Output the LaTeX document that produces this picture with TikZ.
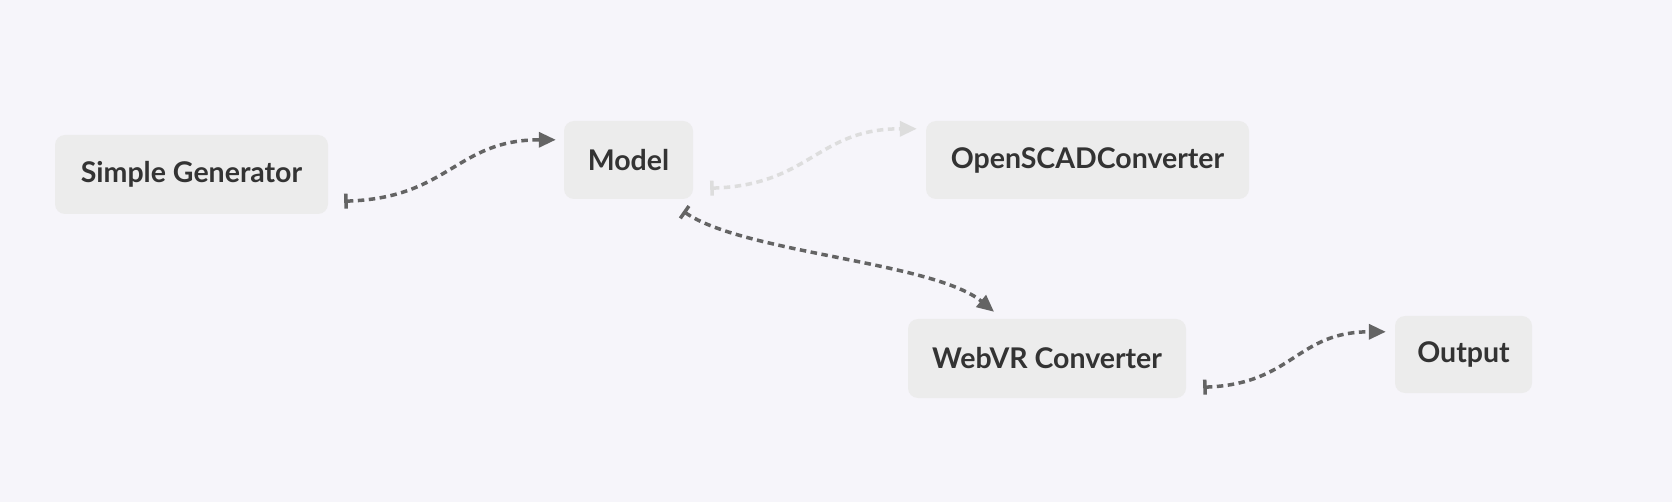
\documentclass[tikz,border=0pt]{standalone}
\usepackage{fontspec}
\setmainfont{Lato}
\usetikzlibrary{arrows.meta,calc}
\definecolor{bg}{RGB}{246,245,250}
\definecolor{boxfill}{RGB}{236,236,236}
\definecolor{txt}{RGB}{51,51,51}
\definecolor{conn}{RGB}{100,100,100}
\definecolor{connlight}{RGB}{221,221,221}
\tikzset{
  box/.style={fill=boxfill, rounded corners=10pt, inner sep=0pt, text=txt,
    font=\fontsize{28.5}{32}\selectfont\bfseries},
  link/.style={draw=conn, line width=3.5pt, dash pattern=on 6.5pt off 4.5pt,
    {Bar[width=15pt,line width=3.5pt]}-{Triangle[length=17pt,width=15pt]}},
  linklight/.style={link, draw=connlight},
}
\begin{document}
\begin{tikzpicture}[x=1pt,y=-1pt]
\useasboundingbox[fill=bg] (0,0) rectangle (1672,502);
\node[box, minimum width=273pt, minimum height=79pt] (sg) at (191.5,174.5) {Simple Generator};
\node[box, minimum width=129pt, minimum height=78pt] (model) at (628.5,160) {Model};
\node[box, minimum width=323pt, minimum height=78pt] (osc) at (1087.5,160) {OpenSCADConverter};
\node[box, minimum width=278pt, minimum height=79pt] (web) at (1047,358.5) {WebVR Converter};
\node[box, minimum width=137pt, minimum height=77pt] (out) at (1463.5,354.5) {Output};
\coordinate (a1) at ($(sg.south east)+(16,-13)$);
\coordinate (b1) at ($(model.north west)+(-8,19)$);
\coordinate (a2) at ($(model.south east)+(17,-11)$);
\coordinate (b2) at ($(osc.north west)+(-9,8)$);
\coordinate (a3) at ($(model.south east)+(-10,12)$);
\coordinate (b3) at ($(web.north)+(-53,-7)$);
\coordinate (a4) at ($(web.south east)+(17,-11)$);
\coordinate (b4) at ($(out.north west)+(-9,16)$);
\draw[link] (a1) .. controls ($(a1)+(105,-3)$) and ($(b1)+(-100,0)$) .. (b1);
\draw[linklight] (a2) .. controls ($(a2)+(100,-3)$) and ($(b2)+(-100,0)$) .. (b2);
\draw[link] (a3) .. controls ($(a3)+(60,42)$) and ($(b3)+(-60,-50)$) .. (b3);
\draw[link] (a4) .. controls ($(a4)+(90,-3)$) and ($(b4)+(-90,0)$) .. (b4);
\end{tikzpicture}
\end{document}
